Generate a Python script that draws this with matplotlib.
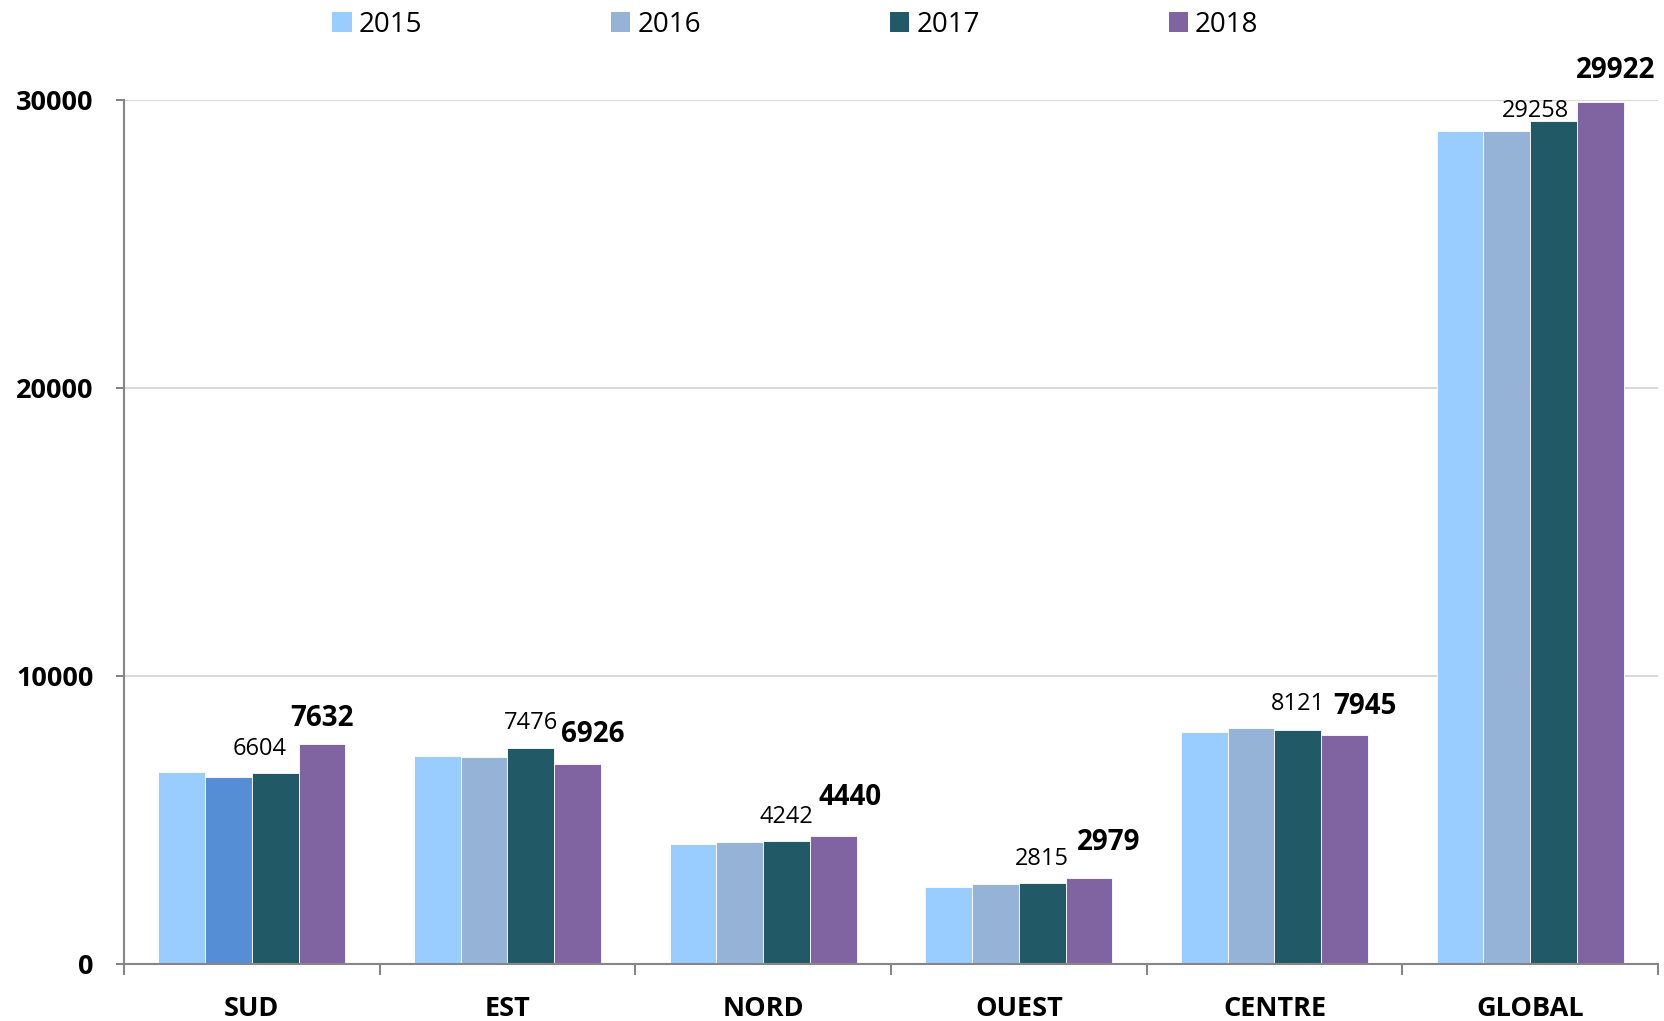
import matplotlib
matplotlib.use("Agg")
import matplotlib.pyplot as plt
import numpy as np
from matplotlib.patches import Patch

plt.rcParams['font.family'] = ['Open Sans', 'DejaVu Sans']

categories = ["SUD", "EST", "NORD", "OUEST", "CENTRE", "GLOBAL"]
years = ["2015", "2016", "2017", "2018"]
v2015 = [6670, 7220, 4170, 2650, 8040, 28900]
v2016 = [6490, 7190, 4230, 2760, 8180, 28930]
v2017 = [6604, 7476, 4242, 2815, 8121, 29258]
v2018 = [7632, 6926, 4440, 2979, 7945, 29922]
yticks = [0, 10000, 20000, 30000]

colors = ["#99CCFF", "#95B3D7", "#215967", "#8064A2"]
sud_2016_color = "#558ED5"

# label offsets (points): (dx, dy)
off2017 = [(-11, 13), (0, 14), (0, 13), (0, 13), (0, 14), (-13, 3)]
off2018 = [(0, 13), (11, 16), (12, 22), (14, 20), (15, 15), (11, 17)]

fig = plt.figure(figsize=(16.64, 10.21), dpi=100)
ax = fig.add_axes([0.0745, 0.0562, 0.9219, 0.8461])

series = [v2015, v2016, v2017, v2018]
x = np.arange(len(categories))
w = 0.1827
for i, vals in enumerate(series):
    pos = x + (i - 1.5) * w
    cols = [colors[i]] * len(vals)
    if i == 1:
        cols[0] = sud_2016_color
    ax.bar(pos, vals, width=w, color=cols, edgecolor='white', linewidth=0.6, zorder=3)

for j in range(len(categories)):
    p17 = x[j] + 0.5 * w
    p18 = x[j] + 1.5 * w
    ax.annotate(str(v2017[j]), (p17, v2017[j]), xytext=off2017[j], textcoords='offset points',
                ha='center', va='baseline', fontsize=17, color='black', zorder=5)
    ax.annotate(str(v2018[j]), (p18, v2018[j]), xytext=off2018[j], textcoords='offset points',
                ha='center', va='baseline', fontsize=20, fontweight='bold', color='black', zorder=5)

ax.set_xlim(-0.5, len(categories) - 0.5)
ax.set_ylim(0, 30000)
ax.set_yticks(yticks)
ax.set_yticklabels([str(t) for t in yticks], fontsize=19.5, fontweight='bold')
ax.set_xticks(x)
ax.set_xticklabels(categories, fontsize=19.5, fontweight='bold')
ax.set_xticks(np.arange(-0.5, len(categories)), minor=True)
ax.tick_params(axis='x', which='major', length=0, pad=23)
ax.tick_params(axis='x', which='minor', length=8, width=1.5, color='#868686', direction='out')
ax.tick_params(axis='y', which='major', length=6, width=1.5, color='#868686', pad=16, direction='out')

ax.yaxis.grid(True, color='#D9D9D9', linewidth=1.5, zorder=0)
ax.set_axisbelow(True)
for s in ['top', 'right']:
    ax.spines[s].set_visible(False)
for s in ['left', 'bottom']:
    ax.spines[s].set_color('#868686')
    ax.spines[s].set_linewidth(1.5)
    ax.spines[s].set_zorder(4)

handles = [Patch(facecolor=c, edgecolor='none') for c in colors]
fig.legend(handles, years, loc='center', bbox_to_anchor=(0.478, 0.976), ncol=4, frameon=False,
           fontsize=20, handlelength=0.7, handleheight=0.7, handletextpad=0.25,
           columnspacing=6.8)

fig.savefig("out.png", dpi=100)
